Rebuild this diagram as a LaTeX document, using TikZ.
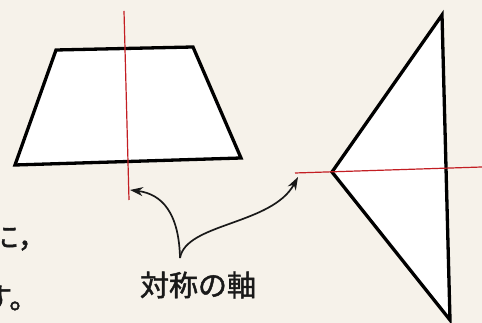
\documentclass[tikz,border=0pt]{standalone}
\usepackage{fontspec}
\newfontfamily\cjk[FakeBold=1.5]{Noto Sans CJK JP}
\usetikzlibrary{arrows.meta}
\definecolor{paper}{RGB}{246,242,234}
\definecolor{axisred}{RGB}{195,30,35}
\tikzset{
  shapeline/.style={draw=black, line width=3.3pt, line join=miter, fill=white},
  axisline/.style={draw=axisred, line width=1.2pt},
  pointer/.style={draw=black!90, line width=1.7pt, -{Stealth[length=13pt,width=9pt]}},
  jtext/.style={font=\cjk\fontsize{29}{29}\selectfont, inner sep=0pt, text=black!90}
}
\begin{document}
\begin{tikzpicture}[x=1pt,y=1pt]
\fill[paper] (0,0) rectangle (482,323);
\useasboundingbox (0,0) rectangle (482,323);
\clip (0,0) rectangle (482,323);
% trapezoid
\coordinate (tTL) at (56,273);
\coordinate (tTR) at (193,276);
\coordinate (tBR) at (241,165);
\coordinate (tBL) at (15,158);
\draw[shapeline] (tTL) -- (tTR) -- (tBR) -- (tBL) -- cycle;
\coordinate (v1) at (124,312);
\coordinate (v2) at (129,123);
\draw[axisline] (v1) -- (v2);
% triangle
\coordinate (kT) at (442,308);
\coordinate (kL) at (332,151);
\coordinate (kB) at (450,3);
\draw[shapeline] (kT) -- (kL) -- (kB) -- cycle;
\coordinate (h1) at (295,150);
\coordinate (h2) at (482,156);
\draw[axisline] (h1) -- (h2);
% label and pointers
\node[jtext] (lab) at (198,38) {対称の軸};
\coordinate (fork) at (180,65);
\coordinate (tipL) at (130,133);
\coordinate (tipR) at (298,146);
\draw[pointer] (fork) .. controls (179,110) and (162,129) .. (tipL);
\draw[pointer] (fork) .. controls (186,100) and (272,98) .. (tipR);
% cut-off text at the left edge
\node[jtext, anchor=west] (t1) at (-10,85) {に，};
\node[jtext, anchor=west] (t2) at (-17,25) {す。};
\end{tikzpicture}
\end{document}
